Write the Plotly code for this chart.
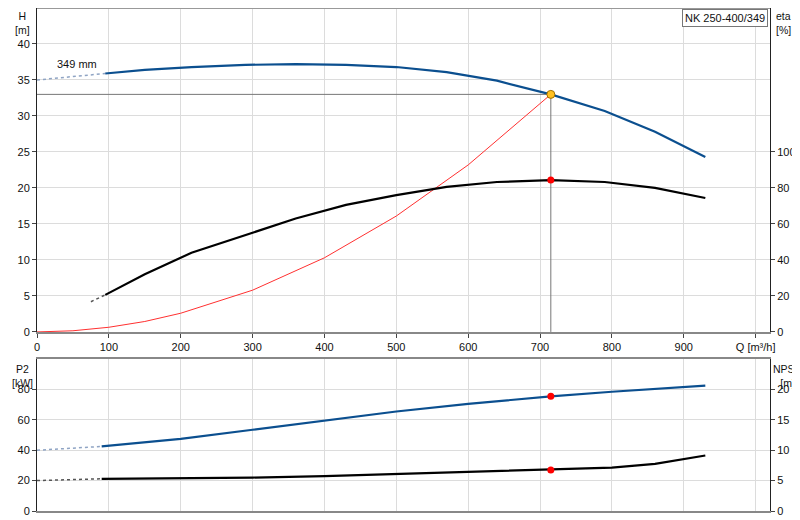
import plotly.graph_objects as go

q_h_ext = [0, 95]
h_ext = [35.0, 35.9]
q_h = [95, 150, 215, 290, 360, 430, 500, 570, 640, 715, 790, 860, 930]
h = [35.9, 36.4, 36.8, 37.1, 37.2, 37.1, 36.8, 36.1, 34.9, 33.0, 30.7, 27.8, 24.3]
q_eta_ext = [75, 95]
eta_ext = [16.8, 20.6]
q_eta = [95, 150, 215, 290, 360, 430, 500, 570, 640, 715, 790, 860, 930]
eta = [20.6, 32, 44, 54, 63, 70.6, 76, 80.6, 83.3, 84.4, 83.3, 80, 74.4]
q_sys = [0, 50, 100, 150, 200, 300, 400, 500, 600, 715]
h_sys = [0, 0.16, 0.65, 1.45, 2.6, 5.8, 10.3, 16.1, 23.2, 33.0]
q_p2_ext = [0, 90]
p2_ext = [40, 42.5]
q_p2 = [90, 200, 300, 400, 500, 600, 715, 800, 930]
p2 = [42.5, 47.5, 53.5, 59.5, 65.5, 70.5, 75.5, 78.5, 82.5]
q_npsh_ext = [0, 90]
npsh_ext = [5.0, 5.3]
q_npsh = [90, 200, 300, 400, 500, 600, 715, 800, 860, 930]
npsh = [5.3, 5.375, 5.5, 5.75, 6.08, 6.38, 6.75, 7.13, 7.75, 9.13]
q_op, h_op, eta_op, p2_op, npsh_op = 715, 33.0, 84.4, 75.5, 6.75
x_ticks = [0, 100, 200, 300, 400, 500, 600, 700, 800, 900, 1000]
x_text = ["0", "100", "200", "300", "400", "500", "600", "700", "800", "900", "Q [m³/h]"]

BLUE = "#0b4f8f"
fig = go.Figure()
def ln(x, y, color, w, dash="solid", xa="x", ya="y"):
    fig.add_trace(go.Scatter(x=x, y=y, mode="lines", line=dict(color=color, width=w, dash=dash),
                             xaxis=xa, yaxis=ya, showlegend=False, hoverinfo="skip"))

ln([0, q_op], [h_op, h_op], "#777", 1)
ln([q_op, q_op], [h_op, 0], "#777", 1)
ln(q_sys, h_sys, "#ff3030", 1)
ln(q_h_ext, h_ext, "#8fa4c4", 1.5, "dot")
ln(q_h, h, BLUE, 2.2)
ln(q_eta_ext, eta_ext, "#555", 1.5, "dot", ya="y3")
ln(q_eta, eta, "black", 2.2, ya="y3")
fig.add_trace(go.Scatter(x=[q_op], y=[eta_op], mode="markers", marker=dict(color="red", size=7),
                         yaxis="y3", showlegend=False))
fig.add_trace(go.Scatter(x=[q_op], y=[h_op], mode="markers",
                         marker=dict(color="#ffc020", size=8, line=dict(color="#a07000", width=1)),
                         showlegend=False))
ln(q_p2_ext, p2_ext, "#8fa4c4", 1.5, "dot", "x2", "y2")
ln(q_p2, p2, BLUE, 2.2, xa="x2", ya="y2")
ln(q_npsh_ext, npsh_ext, "#555", 1.5, "dot", "x2", "y4")
ln(q_npsh, npsh, "black", 2.2, xa="x2", ya="y4")
fig.add_trace(go.Scatter(x=[q_op], y=[p2_op], mode="markers", marker=dict(color="red", size=7),
                         xaxis="x2", yaxis="y2", showlegend=False))
fig.add_trace(go.Scatter(x=[q_op], y=[npsh_op], mode="markers", marker=dict(color="red", size=7),
                         xaxis="x2", yaxis="y4", showlegend=False))

top_dom = [0.356, 1.0]
bot_dom = [0.0, 0.302]
ax = dict(showgrid=True, gridcolor="#dcdcdc", gridwidth=1, zeroline=False, ticks="outside",
          ticklen=4, tickcolor="#444", tickfont=dict(size=11, color="#111"), automargin=False)
fig.update_layout(
    width=800, height=520, margin=dict(l=29, r=38, t=0, b=17),
    plot_bgcolor="white", paper_bgcolor="white",
    font=dict(family="Liberation Sans, Arial", size=11, color="#111"),
    xaxis=dict(ax, range=[0, 1020], tickvals=x_ticks, ticktext=x_text, domain=[0, 1],
               anchor="y", showline=True, linecolor="#888", linewidth=2, mirror=False),
    xaxis2=dict(ax, range=[0, 1020], tickvals=x_ticks, showticklabels=False, ticks="",
                domain=[0, 1], anchor="y2", showline=True, linecolor="#888", linewidth=2, mirror=True),
    yaxis=dict(ax, range=[0, 45], tickvals=[0, 5, 10, 15, 20, 25, 30, 35, 40], domain=top_dom,
               anchor="x", showline=True, linecolor="#222", linewidth=1),
    yaxis3=dict(ax, range=[0, 180], tickvals=[0, 20, 40, 60, 80, 100], overlaying="y", side="right",
                anchor="x", showgrid=False, showline=True, linecolor="#222", linewidth=1),
    yaxis2=dict(ax, range=[0, 100], tickvals=[0, 20, 40, 60, 80], domain=bot_dom, anchor="x2",
                showline=True, linecolor="#222", linewidth=1),
    yaxis4=dict(ax, range=[0, 25], tickvals=[0, 5, 10, 15, 20], overlaying="y2", side="right",
                anchor="x2", showgrid=False, showline=True, linecolor="#222", linewidth=1),
    shapes=[dict(type="line", xref="paper", yref="paper", x0=0, x1=1, y0=1, y1=1,
                 line=dict(color="#999", width=2))],
    annotations=[
        dict(text="H<br>[m]", x=-0.02, y=1.0, xref="paper", yref="paper", xanchor="center",
             yanchor="top", showarrow=False, align="center", font=dict(size=10.5)),
        dict(text="eta<br>[%]", x=1.006, y=1.0, xref="paper", yref="paper", xanchor="left",
             yanchor="top", showarrow=False, align="left", font=dict(size=10.5)),
        dict(text="P2<br>[kW]", x=-0.02, y=0.302, xref="paper", yref="paper", xanchor="center",
             yanchor="top", yshift=-2, showarrow=False, align="center", font=dict(size=10.5)),
        dict(text="NPSH<br>[m]", x=1.002, y=0.302, xref="paper", yref="paper", xanchor="left",
             yanchor="top", yshift=-2, showarrow=False, align="center", font=dict(size=10.5)),
        dict(text="349 mm", x=55, y=37.2, xref="x", yref="y", showarrow=False),
        dict(text="NK 250-400/349", x=0.997, y=0.999, xref="paper", yref="paper", xanchor="right",
             yanchor="top", showarrow=False, bgcolor="white", bordercolor="#777", borderwidth=1,
             borderpad=2),
    ],
)
fig.write_html("out.html")
